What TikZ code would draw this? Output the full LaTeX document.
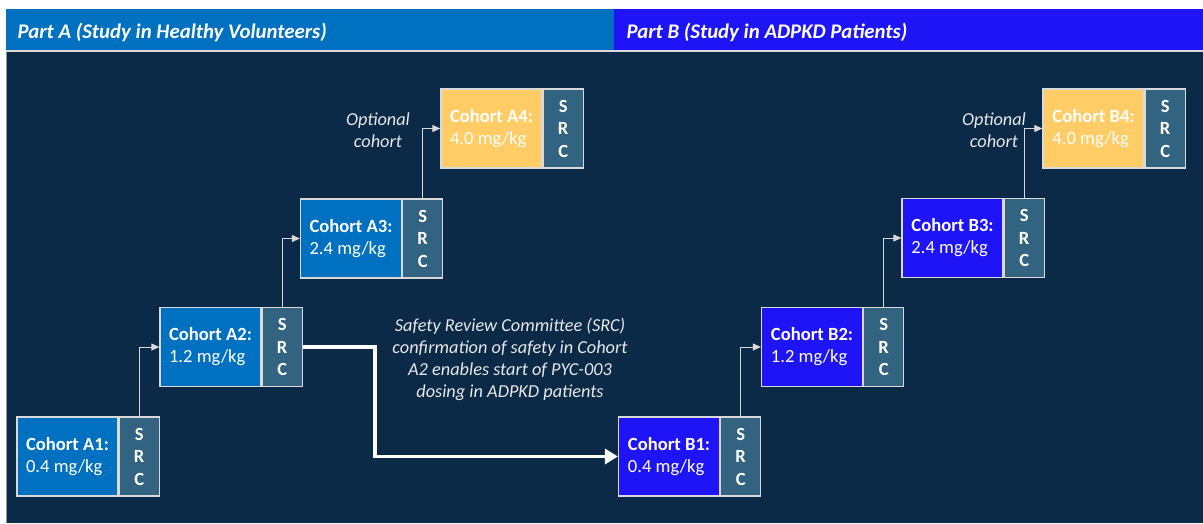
\documentclass[tikz,border=0pt]{standalone}
\usepackage{fontspec}
\setmainfont{Carlito}
\usetikzlibrary{arrows.meta, positioning}
\usepackage{xcolor}
\definecolor{navybg}{RGB}{11,42,71}
\definecolor{partablue}{RGB}{0,112,192}
\definecolor{partbblue}{RGB}{30,20,245}
\definecolor{optyellow}{RGB}{255,204,102}
\definecolor{srcgrey}{RGB}{50,99,128}
\definecolor{edgegrey}{RGB}{217,217,217}
\definecolor{notegrey}{RGB}{232,232,232}

\begin{document}
\begin{tikzpicture}[
        x=1pt, y=-1pt,
        cohortbox/.style={shape=rectangle, draw=edgegrey, line width=1.2pt, minimum width=101pt, minimum height=79pt, inner sep=0pt, align=left, text=white, font=\fontsize{18.6}{22}\selectfont},
        srcbox/.style={shape=rectangle, fill=srcgrey, draw=edgegrey, line width=1.2pt, minimum width=40pt, minimum height=79pt, inner sep=0pt, align=center, text=white, font=\bfseries\fontsize{18.6}{22.5}\selectfont},
        steparrow/.style={draw=edgegrey, line width=0.9pt, -{Triangle[length=8pt, width=7pt]}},
        bigarrow/.style={draw=white, line width=3.6pt, -{Triangle[length=13pt, width=15pt]}},
        notetext/.style={text=notegrey, align=center, font=\itshape\fontsize{18.3}{22}\selectfont},
        headtext/.style={text=white, font=\bfseries\itshape\fontsize{20.8}{24}\selectfont}
        ]

        %% Background
        \useasboundingbox (0,0) rectangle (1203,523);
        \fill[white] (0,0) rectangle (1203,523);
        \fill[navybg] (6,52) rectangle (1203,523);
        \draw[edgegrey!60!navybg, line width=1pt] (6.5,52) -- (6.5,523);
        \fill[partablue] (6,9) rectangle (614,50);
        \fill[partbblue] (614,9) rectangle (1203,50);
        \draw[edgegrey, line width=1.5pt] (6,51) -- (1203,51);

        %% Headers
        \node[headtext, anchor=base west] (parta) at (14,38) {Part A (Study in Healthy Volunteers)};
        \node[headtext, anchor=base west] (partb) at (623,38) {Part B (Study in ADPKD Patients)};

% Cohorts
        \foreach \name/\xc/\yc/\cname/\dose/\boxcol in {a1/67.5/456.5/A1/0.4/partablue, a2/210.5/347/A2/1.2/partablue, a3/351/238.5/A3/2.4/partablue, a4/491.5/128.5/A4/4.0/optyellow, b1/669/456.5/B1/0.4/partbblue, b2/812/347/B2/1.2/partbblue, b3/952.5/238/B3/2.4/partbblue, b4/1093.5/128.5/B4/4.0/optyellow} {
            \node[cohortbox, fill=\boxcol] (\name) at (\xc,\yc) {\textbf{Cohort \cname:}\\\dose{} mg/kg};
            \node[srcbox, right=0pt of \name] (\name s) {S\\R\\C};
        }

        %% Escalation
        \draw[steparrow] (a1s.north) |- (a2.west);
        \draw[steparrow] (a2s.north) |- (a3.west);
        \draw[steparrow] (a3s.north) |- (a4.west);
        \draw[steparrow] (b1s.north) |- (b2.west);
        \draw[steparrow] (b2s.north) |- (b3.west);
        \draw[steparrow] (b3s.north) |- (b4.west);

        \draw[bigarrow] (a2s.east) -- ++(72,0) |- (b1.west);

        %% Notes
        \node[notetext] (safetynote) at (510,359) {Safety Review Committee (SRC)\\confirmation of safety in Cohort\\A2 enables start of PYC-003\\dosing in ADPKD patients};
        \node[notetext] (optnotea) at (378,130) {Optional\\cohort};
        \node[notetext] (optnoteb) at (994,130) {Optional\\cohort};
\end{tikzpicture}
\end{document}
